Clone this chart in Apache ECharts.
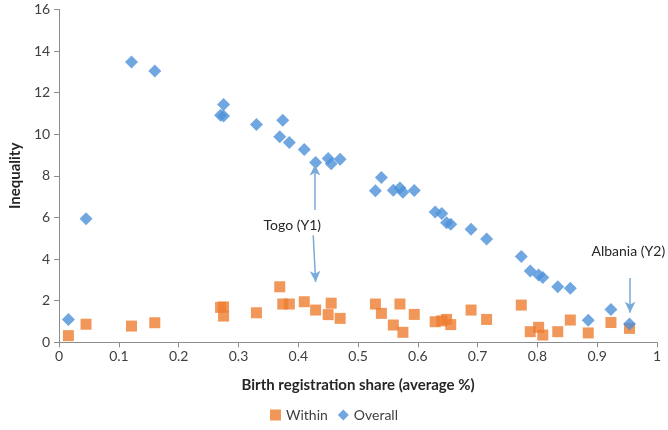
<!DOCTYPE html>
<html><head><meta charset="utf-8">
<script src="https://cdn.jsdelivr.net/npm/echarts@6/dist/echarts.min.js"></script>
<style>html,body{margin:0;padding:0;background:#fff}#c{width:668px;height:430px}</style>
</head><body><div id="c"></div>
<script>
const share = [0.0155,0.045,0.121,0.160,0.270,0.275,0.275,0.330,0.369,0.374,0.385,0.410,0.429,0.450,0.455,0.470,0.529,0.539,0.559,0.570,0.575,0.594,0.629,0.640,0.648,0.655,0.689,0.715,0.773,0.788,0.802,0.809,0.834,0.855,0.885,0.923,0.954];
const overall = [1.10,5.94,13.48,13.04,10.92,11.43,10.88,10.47,9.88,10.68,9.60,9.27,8.64,8.84,8.59,8.80,7.29,7.92,7.31,7.42,7.21,7.30,6.27,6.19,5.75,5.67,5.43,4.97,4.12,3.43,3.24,3.12,2.67,2.60,1.06,1.58,0.88];
const within = [0.32,0.87,0.78,0.94,1.68,1.70,1.26,1.42,2.67,1.84,1.84,1.95,1.55,1.33,1.88,1.15,1.84,1.39,0.83,1.84,0.48,1.34,0.99,1.03,1.10,0.85,1.55,1.10,1.79,0.51,0.72,0.35,0.51,1.07,0.45,0.95,0.67];
const xTicks = ['0','0.1','0.2','0.3','0.4','0.5','0.6','0.7','0.8','0.9','1'];
const labels = [{name:'Togo (Y1)', x:0.39, y:5.6}, {name:'Albania (Y2)', x:0.952, y:4.35}];
const arrows = [[[0.428,6.36],[0.428,8.55]], [[0.425,5.15],[0.429,2.9]], [[0.955,3.09],[0.955,1.42]]];

const font = 'Lato, "Open Sans", "Liberation Sans", sans-serif';
const chart = echarts.init(document.getElementById('c'), null, {renderer:'canvas'});
chart.setOption({
  animation:false,
  textStyle:{fontFamily:font},
  grid:{left:53, right:11, top:9.5, bottom:87.7, containLabel:false},
  legend:{
    data:[{name:'Within', icon:'rect'},{name:'Overall', icon:'diamond'}],
    bottom:3, left:'center', itemWidth:11, itemHeight:11, itemGap:10,
    textStyle:{fontFamily:font, fontSize:14, color:'#404040'}
  },
  xAxis:{
    type:'value', min:0, max:1, interval:0.1,
    name:'Birth registration share (average %)', nameLocation:'middle', nameGap:35,
    nameTextStyle:{fontFamily:font, fontSize:15, fontWeight:'bold', color:'#262626'},
    axisLine:{show:true, lineStyle:{color:'#8c8c8c'}},
    axisTick:{show:true, length:5, lineStyle:{color:'#8c8c8c'}},
    splitLine:{show:false},
    axisLabel:{fontFamily:font, fontSize:14, color:'#404040', margin:7,
      formatter:function(v){ return xTicks[Math.round(v*10)]; }}
  },
  yAxis:{
    type:'value', min:0, max:16, interval:2,
    name:'Inequality', nameLocation:'middle', nameGap:33, nameRotate:90,
    nameTextStyle:{fontFamily:font, fontSize:15, fontWeight:'bold', color:'#262626'},
    axisLine:{show:true, lineStyle:{color:'#8c8c8c'}},
    axisTick:{show:true, length:5, lineStyle:{color:'#8c8c8c'}},
    splitLine:{show:false},
    axisLabel:{fontFamily:font, fontSize:14, color:'#404040', margin:9}
  },
  series:[
    {name:'Within', type:'scatter', symbol:'rect', symbolSize:11,
     itemStyle:{color:'#ED7D31'},
     data: share.map((s,i)=>[s, within[i]])},
    {name:'Overall', type:'scatter', symbol:'diamond', symbolSize:13,
     itemStyle:{color:'#4E91D9'},
     data: share.map((s,i)=>[s, overall[i]]),
     markLine:{silent:true, symbol:['none','arrow'], symbolSize:[8,11],
       lineStyle:{color:'#7AAAD9', width:1.5, type:'solid'}, label:{show:false},
       data: arrows.map(a=>[{coord:a[0]},{coord:a[1]}])},
     markPoint:{silent:true, symbol:'circle', symbolSize:0,
       label:{show:true, formatter:'{b}', color:'#262626', fontFamily:font, fontSize:14, position:'inside'},
       data: labels.map(l=>({name:l.name, coord:[l.x,l.y]}))}
    }
  ]
});
</script></body></html>
